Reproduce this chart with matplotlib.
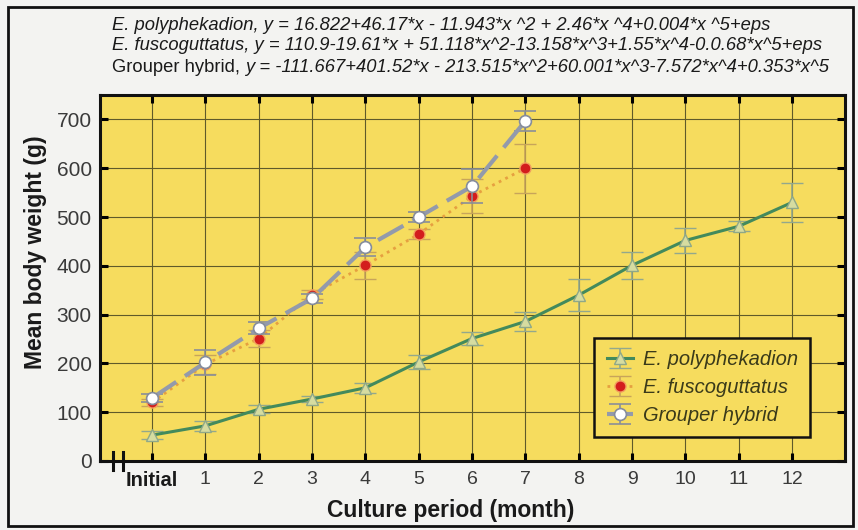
import numpy as np
import matplotlib
matplotlib.use("Agg")
from matplotlib import pyplot as plt
from matplotlib.patches import Rectangle

plt.rcParams['font.family'] = ['Liberation Sans', 'DejaVu Sans']

# data
months = ["Initial", "1", "2", "3", "4", "5", "6", "7", "8", "9", "10", "11", "12"]

poly_x = np.arange(13)
poly_y = [53, 72, 106, 127, 150, 203, 251, 286, 340, 401, 452, 481, 530]
poly_err = [8, 10, 8, 6, 10, 15, 13, 20, 32, 28, 26, 10, 40]

fusco_x = np.arange(8)
fusco_y = [120, 198, 251, 341, 401, 465, 543, 600]
fusco_err = [8, 20, 18, 10, 28, 10, 35, 50]

hybrid_x = np.arange(8)
hybrid_y = [129, 202, 272, 333, 438, 500, 563, 697]
hybrid_err = [8, 25, 12, 10, 18, 10, 35, 20]

equations = [
    ("E. polyphekadion, y = 16.822+46.17*x - 11.943*x ^2 + 2.46*x ^4+0.004*x ^5+eps", ""),
    ("E. fuscoguttatus, y = 110.9-19.61*x + 51.118*x^2-13.158*x^3+1.55*x^4-0.0.68*x^5+eps", ""),
    ("Grouper hybrid, ", "y = -111.667+401.52*x - 213.515*x^2+60.001*x^3-7.572*x^4+0.353*x^5"),
]

W, H = 858, 530
fig = plt.figure(figsize=(W / 100, H / 100), dpi=100, facecolor="#f3f3f1")
ax = fig.add_axes([100 / W, 1 - 461 / H, 745 / W, 366 / H])
ax.set_facecolor("#f6dc5e")

# outer frame
fig.patches.append(Rectangle((8 / W, 4 / H), 845 / W, 519 / H, transform=fig.transFigure,
                             fill=False, edgecolor="#111111", linewidth=2))

# series
ax.errorbar(poly_x, poly_y, yerr=poly_err, color="#438a5c", lw=2.2,
            marker="^", ms=8, mfc="#d6dca0", mec="#8fa888", mew=1,
            ecolor="#93a88c", elinewidth=1.2, capsize=8, capthick=1.2,
            label="E. polyphekadion", zorder=3)
ax.errorbar(fusco_x, fusco_y, yerr=fusco_err, color="#e6a040", lw=2, ls=":",
            marker="o", ms=8, mfc="#d31d1d", mec="#f2a060", mew=1,
            ecolor="#c8a45a", elinewidth=1.2, capsize=8, capthick=1.2,
            label="E. fuscoguttatus", zorder=4)
ax.errorbar(hybrid_x, hybrid_y, yerr=hybrid_err, color="#939aab", lw=3, dashes=(7, 2.5),
            marker="o", ms=8.5, mfc="white", mec="#858c9c", mew=1.2,
            ecolor="#8a8f98", elinewidth=1.2, capsize=8, capthick=1.2,
            label="Grouper hybrid", zorder=5)

ax.set_xlim(-0.975, 12.99)
ax.set_ylim(0, 750)
ax.set_xticks(poly_x)
ax.set_xticklabels(months)
ax.set_yticks(np.arange(0, 701, 100))
ax.grid(True, color="#5f5a2a", linewidth=0.8)
ax.set_axisbelow(True)
ax.tick_params(direction="in", length=6, width=2.2, top=True, right=True,
               labelcolor="#3a3a3a")
ax.tick_params(axis="x", labelsize=14, pad=7)
ax.tick_params(axis="y", labelsize=15, pad=6)
for s in ax.spines.values():
    s.set_linewidth(2.2)
    s.set_color("#111111")
for lab in ax.get_xticklabels():
    if lab.get_text() == "Initial":
        lab.set_fontweight("bold")
        lab.set_fontsize(14.5)
        lab.set_color("#1a1a1a")

ax.set_ylabel("Mean body weight (g)", fontsize=16.5, fontweight="bold", color="#1a1a1a")
ax.yaxis.set_label_coords((47 - 100) / 745, 0.57)
ax.set_xlabel("Culture period (month)", fontsize=16.5, fontweight="bold", color="#1a1a1a")
ax.xaxis.set_label_coords((451 - 100) / 745, -0.104)

# axis break marks
brk = ax.get_xaxis_transform()
for bx in (-0.73, -0.55):
    ax.plot([bx, bx], [-0.025, 0.025], color="#111111", lw=2.2, transform=brk,
            clip_on=False, zorder=6)

leg = ax.legend(loc="lower right", bbox_to_anchor=(0.953, 0.066),
                prop={"style": "italic", "size": 14.5}, frameon=True, fancybox=False,
                facecolor="#f6dc5e", edgecolor="#111111", framealpha=1,
                handlelength=1.3, handletextpad=0.5, borderpad=0.6, labelspacing=0.45,
                borderaxespad=0)
leg.get_frame().set_linewidth(1.8)
for t in leg.get_texts():
    t.set_color("#3a3a1a")

# equations above the plot
renderer = fig.canvas.get_renderer()
ys = [25, 46, 67]
for (first, second), yp in zip(equations, ys):
    style = "italic" if second == "" else "normal"
    t1 = fig.text(112 / W, 1 - yp / H, first, fontsize=13.2, style=style,
                  va="center", ha="left", color="#1a1a1a")
    if second:
        bb = t1.get_window_extent(renderer)
        fig.text(bb.x1 / W, 1 - yp / H, second, fontsize=13.2, style="italic",
                 va="center", ha="left", color="#1a1a1a")

fig.savefig("out.png", dpi=100, facecolor=fig.get_facecolor())
